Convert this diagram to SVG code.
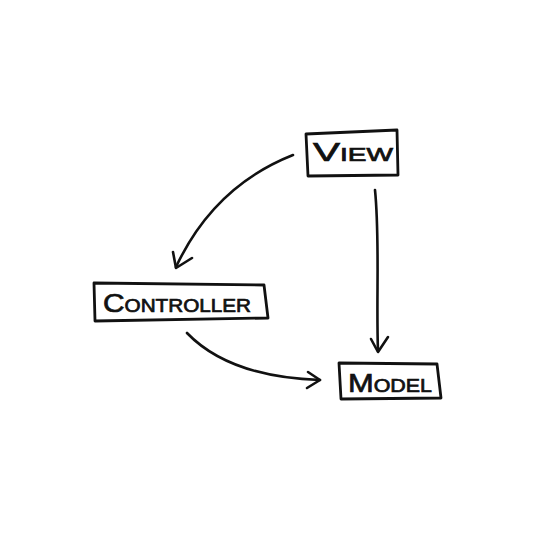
<svg xmlns="http://www.w3.org/2000/svg" width="555" height="555" viewBox="0 0 555 555">
<style>
.box{fill:#fff;stroke:#111;stroke-width:2.8;stroke-linejoin:round}
.lbl{font-family:"Liberation Sans",Arial,sans-serif;font-size:26px;font-variant:small-caps;fill:#111;stroke:#111;stroke-width:0.7;text-anchor:middle}
.edge{fill:none;stroke:#111;stroke-width:2.6;stroke-linecap:round;stroke-linejoin:round}
</style>
<rect width="555" height="555" fill="#fff"/>
<g id="connectors">
<path class="edge" d="M293,155 C250,172 205,205 176,267"/>
<path class="edge" d="M173,252 L176,268 L192,258"/>
<path class="edge" d="M375,190 C380,240 376,300 378,351"/>
<path class="edge" d="M371,339 L378,352 L388,337"/>
<path class="edge" d="M187,333 C215,362 260,378 320,380"/>
<path class="edge" d="M308,372 L320,380 L307,388"/>
</g>
<g id="view">
<path class="box" d="M306,134 L397,130 L398,175 L308,176 Z"/>
<text class="lbl" x="353" y="161" textLength="80" lengthAdjust="spacingAndGlyphs">View</text>
</g>
<g id="controller">
<path class="box" d="M94,283 L264,285 L268,318 L95,321 Z"/>
<text class="lbl" x="177" y="312" textLength="148" lengthAdjust="spacingAndGlyphs">Controller</text>
</g>
<g id="model">
<path class="box" d="M339,363 L437,364 L441,398 L341,399 Z"/>
<text class="lbl" x="390" y="392" textLength="84" lengthAdjust="spacingAndGlyphs">Model</text>
</g>
</svg>
